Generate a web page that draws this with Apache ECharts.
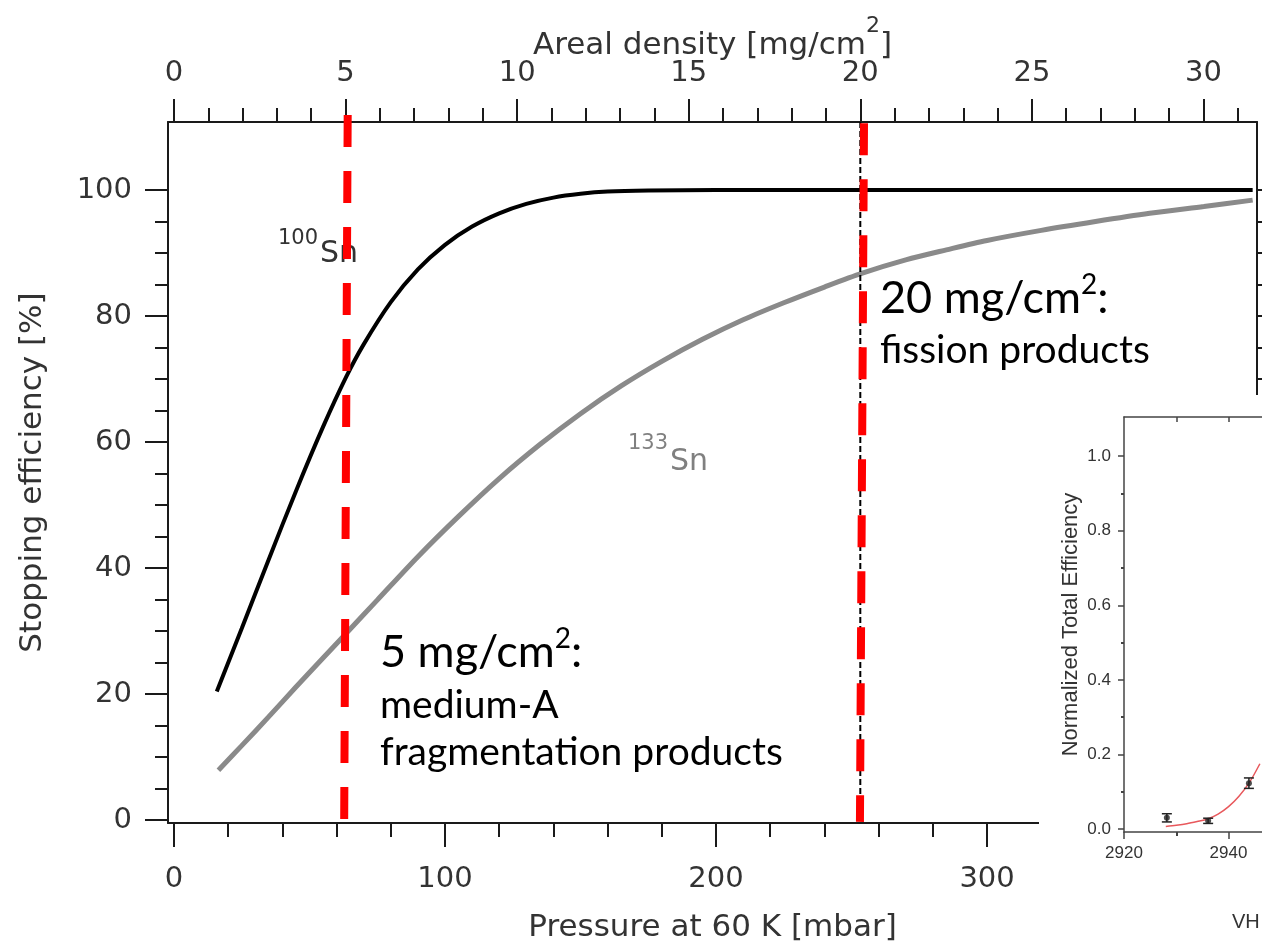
<!DOCTYPE html>
<html><head><meta charset="utf-8">
<script src="https://cdn.jsdelivr.net/npm/echarts@6/dist/echarts.min.js"></script>
<style>html,body{margin:0;padding:0;background:#fff}#c{width:1262px;height:942px}</style>
</head><body><div id="c"></div>
<script>
// ---------- data ----------
const pressureMajor = [0, 100, 200, 300];
const pressureMinor = [20, 40, 60, 80, 120, 140, 160, 180, 220, 240, 260, 280, 320, 340, 360, 380];
const arealMajor = [0, 5, 10, 15, 20, 25, 30];
const arealMinor = [1, 2, 3, 4, 6, 7, 8, 9, 11, 12, 13, 14, 16, 17, 18, 19, 21, 22, 23, 24, 26, 27, 28, 29, 31];
const effMajor = [0, 20, 40, 60, 80, 100];
const effMinor = [5, 10, 15, 25, 30, 35, 45, 50, 55, 65, 70, 75, 85, 90, 95];
const effRight = [0, 5, 10, 15, 20, 25, 30, 35, 40, 45, 50, 55, 60, 65, 70, 75, 80, 85, 90, 95, 100];

// pressure [mbar], stopping efficiency [%]
const sn100 = [[15.8, 20.4], [25, 30.4], [35, 41.4], [45, 52.2], [55, 62.4], [63.5, 70.3], [70, 75.5], [80, 82.2], [90, 87.4], [100, 91.3], [110, 94.2], [120, 96.3], [130, 97.8], [140, 98.8], [150, 99.4], [160, 99.75], [175, 99.92], [200, 100], [300, 100], [398, 100]];
const sn133 = [[16.4, 7.9], [25, 11.8], [35, 16.4], [45, 21.1], [55, 25.7], [63.5, 29.6], [75, 34.9], [90, 41.8], [105, 48.2], [120, 54.2], [135, 59.6], [150, 64.5], [165, 68.9], [180, 72.8], [195, 76.3], [210, 79.4], [225, 82.1], [240, 84.6], [254, 86.8], [270, 88.9], [285, 90.5], [300, 92], [320, 93.6], [340, 95], [360, 96.3], [380, 97.4], [398, 98.4]];

// marker lines
const redLine1 = [[64.1, 111.9], [62.8, -0.3]];     // pressure, %
const redLine2 = [[254.6, 110.6], [253.1, -0.3]];   // pressure, %
const blackLine = [[20, 110.8], [20, -0.3]];        // areal density, %

// inset
const insetXMajor = [2920, 2940];
const insetXMinor = [2930];
const insetTopTicks = [2930, 2940];
const insetYMajor = [0, 0.2, 0.4, 0.6, 0.8, 1.0];
const insetYMinor = [0.1, 0.3, 0.5, 0.7, 0.9];
const insetPoints = [[2928.2, 0.03, 0.011], [2936.1, 0.022, 0.007], [2943.9, 0.123, 0.014]];
const insetFit = [[2928, 0.007], [2930, 0.01], [2932, 0.014], [2934, 0.02], [2936, 0.027], [2938, 0.04], [2940, 0.06], [2942, 0.088], [2944, 0.125], [2946, 0.175]];

// ---------- chart ----------
const FONT = 'DejaVu Sans';
const IFONT = 'Liberation Sans';
const TXT = '#333333';
const AX = '#1a1a1a';
const IAX = '#444444';

const chart = echarts.init(document.getElementById('c'), null, {renderer: 'canvas', width: 1262, height: 942});

function minorAxis(gridIndex, position, min, max, values, len, color) {
  return {
    type: 'value', gridIndex: gridIndex, position: position, min: min, max: max,
    axisLine: {show: false, onZero: false},
    axisTick: {show: true, inside: false, length: len, customValues: values, lineStyle: {color: color, width: 2}},
    axisLabel: {show: false}, splitLine: {show: false}
  };
}

const P_MIN = -2.2, P_MAX = 399.6;
const A_MIN = -0.174, A_MAX = 31.56;
const Y_MIN = -0.48, Y_MAX = 110.8;
const IX_MIN = 2920, IX_MAX = 2948.7;
const IY_MIN = -0.008, IY_MAX = 1.105;

function txt(x, y, text, size, family, fill, z, rich) {
  const st = {x: x, y: y, text: text, fontSize: size, fontFamily: family, fill: fill, textAlign: 'left', textVerticalAlign: 'middle'};
  if (rich) st.rich = rich;
  return {type: 'text', z: z, silent: true, style: st};
}
const annRich = {
  a: {fontSize: 45, lineHeight: 50, verticalAlign: 'bottom', fontFamily: 'Lato', color: '#000'},
  s: {fontSize: 28, lineHeight: 30, verticalAlign: 'top', fontFamily: 'Lato', color: '#000'}
};

const option = {
  animation: false,
  backgroundColor: '#ffffff',
  grid: [
    {left: 168, right: 5, top: 122, bottom: 119, outerBoundsMode: 'none'},
    {left: 1124, right: -12, top: 417, bottom: 110, outerBoundsMode: 'none'}
  ],
  xAxis: [
    {
      type: 'value', gridIndex: 0, position: 'bottom', min: P_MIN, max: P_MAX,
      axisLine: {show: true, onZero: false, lineStyle: {color: AX, width: 2}},
      axisTick: {show: true, inside: false, length: 24, customValues: pressureMajor, lineStyle: {color: AX, width: 2}},
      axisLabel: {show: true, customValues: pressureMajor, margin: 42, fontSize: 29, lineHeight: 29, fontFamily: FONT, color: TXT},
      splitLine: {show: false},
      name: 'Pressure at 60 K [mbar]', nameLocation: 'middle', nameGap: 89, nameMoveOverlap: false,
      nameTextStyle: {fontSize: 31, lineHeight: 31, fontFamily: FONT, color: TXT}
    },
    minorAxis(0, 'bottom', P_MIN, P_MAX, pressureMinor, 14, AX),
    {
      type: 'value', gridIndex: 0, position: 'top', min: A_MIN, max: A_MAX,
      axisLine: {show: true, onZero: false, lineStyle: {color: AX, width: 2}},
      axisTick: {show: true, inside: false, length: 23, customValues: arealMajor, lineStyle: {color: AX, width: 2}},
      axisLabel: {show: true, customValues: arealMajor, margin: 34, fontSize: 29, lineHeight: 29, fontFamily: FONT, color: TXT},
      splitLine: {show: false},
      name: '{m|Areal density [mg/cm}{s|2}{m|]}', nameLocation: 'middle', nameGap: 61, nameMoveOverlap: false,
      nameTextStyle: {
        fontSize: 31, fontFamily: FONT, color: TXT,
        rich: {
          m: {fontSize: 31, lineHeight: 46, verticalAlign: 'bottom', fontFamily: FONT, color: TXT},
          s: {fontSize: 22, lineHeight: 15, verticalAlign: 'top', fontFamily: FONT, color: TXT}
        }
      }
    },
    minorAxis(0, 'top', A_MIN, A_MAX, arealMinor, 14, AX),
    {
      type: 'value', gridIndex: 1, position: 'bottom', min: IX_MIN, max: IX_MAX,
      axisLine: {show: true, onZero: false, lineStyle: {color: IAX, width: 1.5}},
      axisTick: {show: true, inside: false, length: 7, customValues: insetXMajor, lineStyle: {color: IAX, width: 1.5}},
      axisLabel: {show: true, customValues: insetXMajor, margin: 13, fontSize: 17, fontFamily: IFONT, color: TXT,
        formatter: function (v) { return String(Math.round(v)); }},
      splitLine: {show: false}, z: 60
    },
    Object.assign(minorAxis(1, 'bottom', IX_MIN, IX_MAX, insetXMinor, 4, IAX), {z: 60}),
    {
      type: 'value', gridIndex: 1, position: 'top', min: IX_MIN, max: IX_MAX,
      axisLine: {show: true, onZero: false, lineStyle: {color: IAX, width: 1.5}},
      axisTick: {show: true, inside: true, length: 5, customValues: insetTopTicks, lineStyle: {color: IAX, width: 1.5}},
      axisLabel: {show: false}, splitLine: {show: false}, z: 60
    }
  ],
  yAxis: [
    {
      type: 'value', gridIndex: 0, position: 'left', min: Y_MIN, max: Y_MAX,
      axisLine: {show: true, onZero: false, lineStyle: {color: AX, width: 2}},
      axisTick: {show: true, inside: false, length: 23, customValues: effMajor, lineStyle: {color: AX, width: 2}},
      axisLabel: {show: true, customValues: effMajor, margin: 36, fontSize: 29, fontFamily: FONT, color: TXT},
      splitLine: {show: false},
      name: 'Stopping efficiency [%]', nameLocation: 'middle', nameRotate: 90, nameGap: 120, nameMoveOverlap: false,
      nameTextStyle: {fontSize: 31, lineHeight: 31, fontFamily: FONT, color: TXT}
    },
    minorAxis(0, 'left', Y_MIN, Y_MAX, effMinor, 13, AX),
    {
      type: 'value', gridIndex: 0, position: 'right', min: Y_MIN, max: Y_MAX,
      axisLine: {show: true, onZero: false, lineStyle: {color: AX, width: 2}},
      axisTick: {show: true, inside: false, length: 6, customValues: effRight, lineStyle: {color: AX, width: 2}},
      axisLabel: {show: false}, splitLine: {show: false}
    },
    {
      type: 'value', gridIndex: 1, position: 'left', min: IY_MIN, max: IY_MAX,
      axisLine: {show: true, onZero: false, lineStyle: {color: IAX, width: 1.5}},
      axisTick: {show: true, inside: false, length: 6, customValues: insetYMajor, lineStyle: {color: IAX, width: 1.5}},
      axisLabel: {show: true, customValues: insetYMajor, margin: 13, fontSize: 17, fontFamily: IFONT, color: TXT,
        formatter: function (v) { return Number(v).toFixed(1); }},
      splitLine: {show: false}, z: 60,
      name: 'Normalized Total Efficiency', nameLocation: 'middle', nameRotate: 90, nameGap: 42, nameMoveOverlap: false,
      nameTextStyle: {fontSize: 22, fontFamily: IFONT, color: TXT}
    },
    Object.assign(minorAxis(1, 'left', IY_MIN, IY_MAX, insetYMinor, 3, IAX), {z: 60})
  ],
  series: [
    {type: 'line', name: '100Sn', xAxisIndex: 0, yAxisIndex: 0, data: sn100, smooth: 0.3,
      symbol: 'none', lineStyle: {color: '#000000', width: 4}, z: 2, silent: true},
    {type: 'line', name: '133Sn', xAxisIndex: 0, yAxisIndex: 0, data: sn133, smooth: 0.3,
      symbol: 'none', lineStyle: {color: '#8a8a8a', width: 5}, z: 2, silent: true},
    {type: 'line', name: 'areal20', xAxisIndex: 2, yAxisIndex: 0, data: blackLine, symbol: 'none', clip: false,
      lineStyle: {color: '#000000', width: 2, type: [6, 3]}, z: 4, silent: true},
    {type: 'line', name: 'red5', xAxisIndex: 0, yAxisIndex: 0, data: redLine1, symbol: 'none', clip: false,
      lineStyle: {color: '#ff0000', width: 8, type: [32, 24], cap: 'butt'}, z: 5, silent: true},
    {type: 'line', name: 'red20', xAxisIndex: 0, yAxisIndex: 0, data: redLine2, symbol: 'none', clip: false,
      lineStyle: {color: '#ff0000', width: 8, type: [32, 24], cap: 'butt'}, z: 5, silent: true},
    {type: 'line', name: 'fit', xAxisIndex: 4, yAxisIndex: 3, data: insetFit, smooth: 0.3, symbol: 'none',
      lineStyle: {color: '#e8585c', width: 1.5}, z: 61, silent: true},
    {type: 'custom', name: 'err', xAxisIndex: 4, yAxisIndex: 3, data: insetPoints, z: 62, silent: true,
      encode: {x: 0, y: 1},
      renderItem: function (params, api) {
        const x = api.value(0), y = api.value(1), e = api.value(2);
        const t = api.coord([x, y + e]), b = api.coord([x, y - e]);
        const hw = 5;
        const st = {stroke: '#222222', lineWidth: 1.5};
        return {type: 'group', children: [
          {type: 'line', shape: {x1: t[0], y1: t[1], x2: b[0], y2: b[1]}, style: st},
          {type: 'line', shape: {x1: t[0] - hw, y1: t[1], x2: t[0] + hw, y2: t[1]}, style: st},
          {type: 'line', shape: {x1: b[0] - hw, y1: b[1], x2: b[0] + hw, y2: b[1]}, style: st}
        ]};
      }},
    {type: 'scatter', name: 'pts', xAxisIndex: 4, yAxisIndex: 3, data: insetPoints.map(function (p) { return [p[0], p[1]]; }),
      symbol: 'circle', symbolSize: 6, itemStyle: {color: '#222222'}, z: 63, silent: true}
  ],
  graphic: [
    {type: 'rect', z: 50, silent: true, shape: {x: 1039, y: 395, width: 240, height: 560}, style: {fill: '#ffffff'}},
    txt(278, 239, '100', 21, FONT, TXT, 1),
    txt(320, 254, 'Sn', 30, FONT, TXT, 1),
    txt(628, 444, '133', 21, FONT, '#808080', 1),
    txt(670, 462, 'Sn', 30, FONT, '#808080', 1),
    txt(380, 650, '{a|5 mg/cm}{s|2}{a|:}', 45, 'Lato', '#000', 100, annRich),
    txt(380, 705, 'medium-A', 39, 'Lato', '#000', 100),
    txt(380, 752, 'fragmentation products', 39, 'Lato', '#000', 100),
    txt(880, 296, '{a|20 mg/cm}{s|2}{a|:}', 45, 'Lato', '#000', 100, annRich),
    txt(880, 350, 'fission products', 39, 'Lato', '#000', 100),
    txt(1232, 922, 'VH', 20, IFONT, TXT, 100)
  ]
};
chart.setOption(option);
</script>
</body></html>
